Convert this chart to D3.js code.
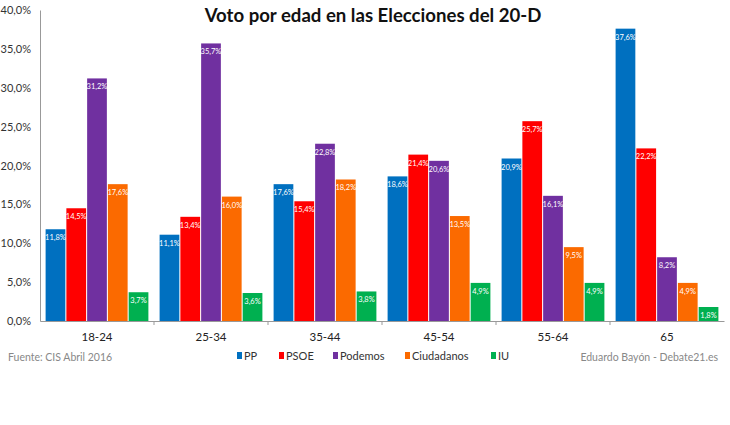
<!DOCTYPE html>
<html>
<head>
<meta charset="utf-8">
<script src="https://cdn.jsdelivr.net/npm/d3@7"></script>
<style>
  body { margin: 0; background: #fff; }
  svg { display: block; font-family: Lato, 'Open Sans', sans-serif; }
</style>
</head>
<body>
<div id="chart"></div>
<script>
// data
var ageGroups = ['18-24', '25-34', '35-44', '45-54', '55-64', '65'];
var parties = ['PP', 'PSOE', 'Podemos', 'Ciudadanos', 'IU'];
var partyColors = ['#0070c0', '#ff0000', '#7030a0', '#fb6a00', '#00b050'];
var ppValues = [11.8, 11.1, 17.6, 18.6, 20.9, 37.6];
var psoeValues = [14.5, 13.4, 15.4, 21.4, 25.7, 22.2];
var podemosValues = [31.2, 35.7, 22.8, 20.6, 16.1, 8.2];
var ciudadanosValues = [17.6, 16.0, 18.2, 13.5, 9.5, 4.9];
var iuValues = [3.7, 3.6, 3.8, 4.9, 4.9, 1.8];
var yTicks = [0, 5, 10, 15, 20, 25, 30, 35, 40];

var series = [ppValues, psoeValues, podemosValues, ciudadanosValues, iuValues];

var width = 730, height = 425;
var plotLeft = 40, plotRight = 724, plotTop = 10, plotBottom = 321;

var svg = d3.select('#chart').append('svg')
    .attr('width', width)
    .attr('height', height);

var x = d3.scaleBand().domain(ageGroups).range([plotLeft, plotRight]).paddingInner(0).paddingOuter(0);
var xInner = d3.scaleBand().domain(parties).range([0, x.bandwidth()]).paddingOuter(0.27).paddingInner(0.05);
var y = d3.scaleLinear().domain([0, 40]).range([plotBottom, plotTop]);
var fmt = function(v){ return d3.format('.1f')(v).replace('.', ',') + '%'; };

// TITLE
svg.append('text')
    .attr('x', 373)
    .attr('y', 22)
    .attr('text-anchor', 'middle')
    .attr('font-size', '18.6px')
    .attr('font-weight', 'bold')
    .attr('fill', '#111')
    .text('Voto por edad en las Elecciones del 20-D');

// Y AXIS
var yAxis = d3.axisLeft(y).tickValues(yTicks).tickSize(0).tickPadding(9)
    .tickFormat(function(d){ return d3.format('.1f')(d).replace('.', ',') + '%'; });
var gy = svg.append('g').attr('transform', 'translate(' + plotLeft + ',0)').call(yAxis);
gy.select('.domain').attr('stroke', '#999');
gy.selectAll('text').attr('font-size', '11px').attr('fill', '#333').attr('font-family', 'Lato, sans-serif');

// BARS
var groups = svg.selectAll('g.group').data(ageGroups).enter().append('g')
    .attr('class', 'group')
    .attr('transform', function(d){ return 'translate(' + x(d) + ',0)'; });

groups.each(function(age, ai){
    var g = d3.select(this);
    for(var p = 0; p < parties.length; p++){
        var v = series[p][ai];
        g.append('rect')
            .attr('x', xInner(parties[p]))
            .attr('y', y(v))
            .attr('width', xInner.bandwidth())
            .attr('height', plotBottom - y(v))
            .attr('fill', partyColors[p]);
        g.append('text')
            .attr('x', xInner(parties[p]) + xInner.bandwidth() / 2)
            .attr('y', y(v) + 11)
            .attr('text-anchor', 'middle')
            .attr('font-size', '7.5px')
            .attr('fill', '#fff')
            .text(fmt(v));
    }
});

// X AXIS
var xAxis = d3.axisBottom(x).tickSize(0).tickPadding(12);
var gx = svg.append('g').attr('transform', 'translate(0,' + plotBottom + ')').call(xAxis);
gx.select('.domain').attr('stroke', '#999');
gx.selectAll('text').attr('font-size', '11.5px').attr('fill', '#222').attr('font-family', 'Lato, sans-serif');
gx.selectAll('line.sep').data(ageGroups.slice(1)).enter().append('line')
    .attr('class', 'sep')
    .attr('x1', function(d){ return x(d); })
    .attr('x2', function(d){ return x(d); })
    .attr('y1', 0).attr('y2', 4)
    .attr('stroke', '#999');

// LEGEND
var legendX = [237, 279, 333, 405, 491];
var legend = svg.selectAll('g.legend').data(parties).enter().append('g')
    .attr('class', 'legend')
    .attr('transform', function(d, i){ return 'translate(' + legendX[i] + ',352)'; });
legend.append('rect')
    .attr('width', 5).attr('height', 7)
    .attr('fill', function(d, i){ return partyColors[i]; });
legend.append('text')
    .attr('x', 7).attr('y', 7.5)
    .attr('font-size', '11px')
    .attr('fill', '#333')
    .text(function(d){ return d; });

// FOOTER
svg.append('text')
    .attr('x', 8).attr('y', 361)
    .attr('font-size', '10.5px')
    .attr('fill', '#888')
    .text('Fuente: CIS Abril 2016');
svg.append('text')
    .attr('x', 718).attr('y', 361)
    .attr('text-anchor', 'end')
    .attr('font-size', '10.5px')
    .attr('fill', '#888')
    .text('Eduardo Bayón - Debate21.es');
</script>
</body>
</html>
